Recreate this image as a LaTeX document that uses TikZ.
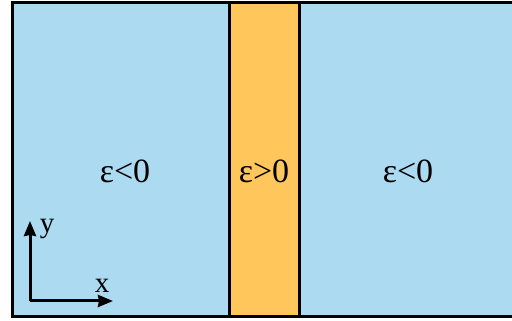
\documentclass[tikz,border=0pt]{standalone}
\usepackage{fontspec}
\setmainfont{Liberation Serif}
\usetikzlibrary{arrows.meta}
\definecolor{negblue}{RGB}{172,218,240}
\definecolor{posorange}{RGB}{255,198,92}
\begin{document}
\begin{tikzpicture}[x=1pt, y=1pt, >={Stealth[length=15pt,width=12pt,inset=1pt]}]
\useasboundingbox (0,0) rectangle (512,321);
\fill[negblue] (12,4) rectangle (530,318);
\fill[posorange] (229,4) rectangle (299,318);
\draw[line width=3pt] (530,318) -- (12,318) -- (12,4) -- (530,4);
\draw[line width=3pt] (229,4) -- (229,318);
\draw[line width=3pt] (299,4) -- (299,318);
\node[font=\fontsize{34}{40}\selectfont] (left) at (125,150) {ε<0};
\node[font=\fontsize{34}{40}\selectfont] (mid) at (264,150) {ε>0};
\node[font=\fontsize{34}{40}\selectfont] (right) at (408,150) {ε<0};
\coordinate (o) at (30,20);
\coordinate (ytip) at (30,100);
\coordinate (xtip) at (113,20);
\node[font=\fontsize{29}{32}\selectfont] (ylab) at (47,92) {y};
\node[font=\fontsize{29}{32}\selectfont] (xlab) at (102,35) {x};
\draw[->, line width=3pt] (o) -- (ytip);
\draw[->, line width=3pt] (o) -- (xtip);
\end{tikzpicture}
\end{document}
